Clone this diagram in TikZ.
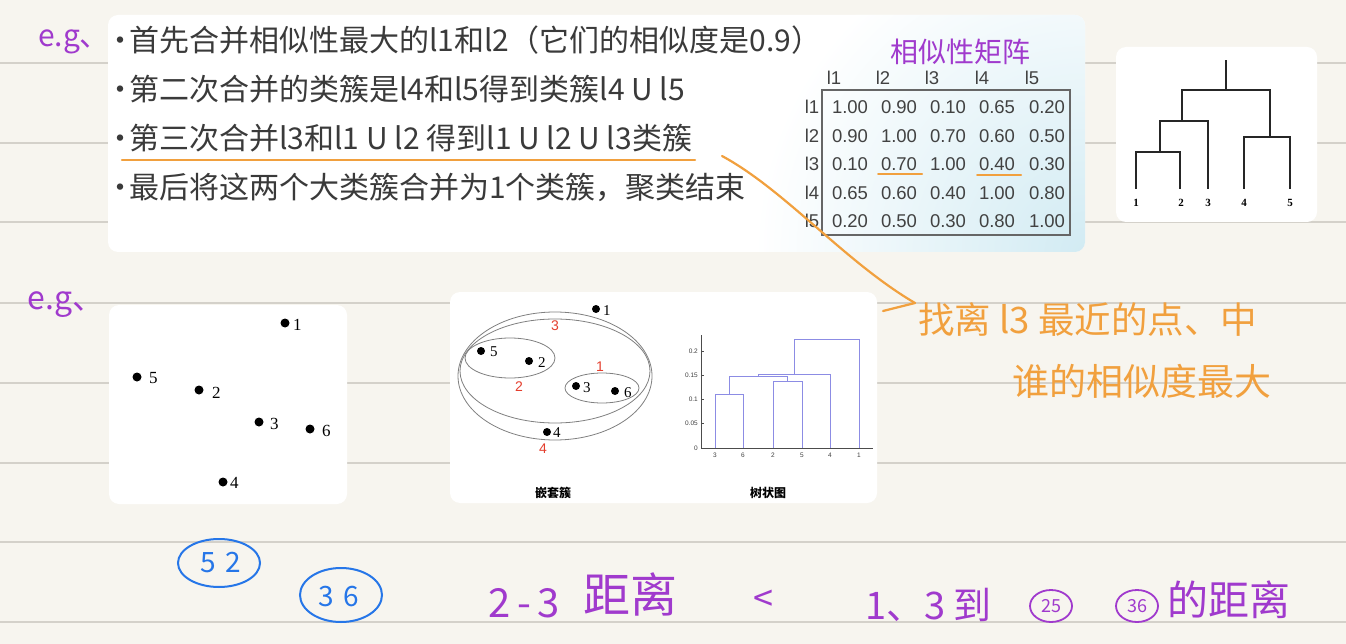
\documentclass[tikz,border=0pt]{standalone}
\usepackage{fontspec}
\setmainfont{Liberation Serif}
\newfontfamily\cjk{Noto Sans CJK SC}
\newfontfamily\arial{Liberation Sans}
\usetikzlibrary{arrows.meta,shapes.geometric}
\definecolor{paper}{RGB}{247,245,239}
\definecolor{rulec}{RGB}{212,209,202}
\definecolor{txt}{RGB}{58,58,58}
\definecolor{mtxt}{RGB}{66,66,66}
\definecolor{hpurple}{RGB}{160,58,205}
\definecolor{horange}{RGB}{241,160,62}
\definecolor{hblue}{RGB}{38,118,232}
\definecolor{dred}{RGB}{228,62,45}
\definecolor{dblue}{RGB}{140,140,228}
\definecolor{tint}{RGB}{210,235,243}
\newcommand{\bdot}{\makebox[17pt][c]{·}}
\begin{document}
\begin{tikzpicture}[x=1pt,y=-1pt,
  panel/.style={fill=white, rounded corners=10pt},
  rulel/.style={draw=rulec, line width=1.3pt},
  body/.style={font=\cjk\fontsize{30}{36}\selectfont, text=txt, anchor=base west, inner sep=0pt},
  mtx/.style={font=\arial\fontsize{18.5}{20}\selectfont, text=mtxt, inner sep=0pt},
  hwp/.style={font=\cjk\fontsize{28}{30}\selectfont, text=hpurple, inner sep=0pt},
  hwo/.style={font=\cjk\fontsize{36.5}{38}\selectfont, text=horange, inner sep=0pt},
  hwb/.style={font=\cjk\fontsize{28}{30}\selectfont, text=hblue, inner sep=0pt},
  oline/.style={draw=horange, line width=2.2pt, line cap=round},
  dot/.style={circle, fill=black, inner sep=0pt, minimum size=9pt},
  sdot/.style={circle, fill=black, inner sep=0pt, minimum size=8pt},
  slab/.style={font=\fontsize{17}{18}\selectfont, inner sep=0pt, anchor=west},
  nlab/.style={font=\fontsize{15}{16}\selectfont, inner sep=0pt, anchor=west},
  rlab/.style={font=\arial\fontsize{14}{15}\selectfont, text=dred, inner sep=0pt},
  clus/.style={draw=black!50, line width=0.8pt},
  dline/.style={draw=black!85, line width=1.6pt},
  dlab/.style={font=\bfseries\fontsize{11}{12}\selectfont, inner sep=0pt},
  pline/.style={draw=dblue, line width=1pt},
  tlab/.style={font=\arial\fontsize{6.5}{7}\selectfont, inner sep=0pt, text=black!75}
]
\useasboundingbox (0,0) rectangle (1346,644);
\fill[paper] (0,0) rectangle (1346,644);
\foreach \yy in {63,143,222,303,383,463,542,622}
  \draw[rulel] (0,\yy) -- (1346,\yy);

% ---------- top panel ----------
\fill[panel] (108,15) rectangle (1085,252);
\begin{scope}
  \clip[rounded corners=10pt] (108,15) rectangle (1085,252);
  \shade[inner color=tint, outer color=white] (1085,252) circle (330);
\end{scope}
\node[hwp, font=\cjk\fontsize{30}{32}\selectfont] (eg1) at (74,42) {e.g、};
\node[body] (t1) at (112,52) {\bdot 首先合并相似性最大的l1和l2（它们的相似度是0.9）};
\node[body] (t2) at (112,101) {\bdot 第二次合并的类簇是l4和l5得到类簇l4 U l5};
\node[body] (t3) at (112,150) {\bdot 第三次合并l3和l1 U l2 得到l1 U l2 U l3类簇};
\node[body] (t4) at (112,199) {\bdot 最后将这两个大类簇合并为1个类簇，聚类结束};
\coordinate (u3a) at (122,160);
\coordinate (u3b) at (695,160);
\draw[oline] (u3a) -- (u3b);

% matrix
\node[hwp] (mtitle) at (960,52) {相似性矩阵};
\foreach \c/\hx in {1/834,2/883,3/932,4/982,5/1032}
  \node[mtx] (h\c) at (\hx,78) {l\c};
\foreach \r/\ry in {1/107,2/136,3/164,4/193,5/221}
  \node[mtx] (r\r) at (812,\ry) {l\r};
\draw[draw=black!60, line width=1.2pt] (822,90) rectangle (1070,235);
\foreach \r/\ry/\va/\vb/\vc/\vd/\ve in {
  1/107/1.00/0.90/0.10/0.65/0.20,
  2/136/0.90/1.00/0.70/0.60/0.50,
  3/164/0.10/0.70/1.00/0.40/0.30,
  4/193/0.65/0.60/0.40/1.00/0.80,
  5/221/0.20/0.50/0.30/0.80/1.00}{
  \node[mtx] (m\r a) at (850,\ry) {\va};
  \node[mtx] (m\r b) at (899,\ry) {\vb};
  \node[mtx] (m\r c) at (948,\ry) {\vc};
  \node[mtx] (m\r d) at (997,\ry) {\vd};
  \node[mtx] (m\r e) at (1047,\ry) {\ve};
}
\coordinate (ua1) at (878,174); \coordinate (ua2) at (922,174);
\coordinate (ub1) at (977,175); \coordinate (ub2) at (1021,175);
\draw[oline, line width=2pt] (ua1) -- (ua2);
\draw[oline, line width=2pt] (ub1) -- (ub2);

% dendrogram panel
\fill[panel] (1116,47) rectangle (1317,222);
\node[dlab] (d1) at (1136,203) {1};
\node[dlab] (d2) at (1181,203) {2};
\node[dlab] (d3) at (1208,203) {3};
\node[dlab] (d4) at (1244,203) {4};
\node[dlab] (d5) at (1290,203) {5};
\draw[dline] (1136,189) |- (1180,152) -- (1180,189);
\draw[dline] (1160,152) |- (1208,121) -- (1208,189);
\draw[dline] (1244,189) |- (1290,137) -- (1290,189);
\draw[dline] (1182,121) |- (1270,90) -- (1270,137);
\draw[dline] (1226,90) -- (1226,60);

% ---------- second row ----------
\node[hwp, font=\cjk\fontsize{32}{34}\selectfont] (eg2) at (66,305) {e.g、};

% scatter panel
\fill[panel] (109,305) rectangle (347,504);
\node[dot] (s1) at (285,323) {}; \node[slab] (sl1) at (293,325) {1};
\node[dot] (s5) at (137,377) {}; \node[slab] (sl5) at (149,378) {5};
\node[dot] (s2) at (199,390) {}; \node[slab] (sl2) at (212,393) {2};
\node[dot] (s3) at (259,422) {}; \node[slab] (sl3) at (270,424) {3};
\node[dot] (s6) at (310,429) {}; \node[slab] (sl6) at (322,431) {6};
\node[dot] (s4) at (223,482) {}; \node[slab] (sl4) at (230,483) {4};

% nested clusters panel
\fill[panel] (450,292) rectangle (877,503);
\draw[clus] (555,376) ellipse [x radius=97, y radius=64];
\draw[clus] (555,371) ellipse [x radius=95, y radius=52];
\draw[clus] (510,358) ellipse [x radius=45, y radius=20];
\draw[clus] (602,388) ellipse [x radius=37, y radius=15];
\node[sdot] (n1) at (596,309) {}; \node[nlab] (nl1) at (603,311) {1};
\node[sdot] (n5) at (481,351) {}; \node[nlab] (nl5) at (490,352) {5};
\node[sdot] (n2) at (529,361) {}; \node[nlab] (nl2) at (538,363) {2};
\node[sdot] (n3) at (576,386) {}; \node[nlab] (nl3) at (583,388) {3};
\node[sdot] (n6) at (615,391) {}; \node[nlab] (nl6) at (624,393) {6};
\node[sdot] (n4) at (547,432) {}; \node[nlab] (nl4) at (553,433) {4};
\node[rlab] (c3) at (555,326) {3};
\node[rlab] (c1) at (600,367) {1};
\node[rlab] (c2) at (519,387) {2};
\node[rlab] (c4) at (543,449) {4};
\node[font=\cjk\bfseries\fontsize{12}{13}\selectfont, inner sep=0pt] (cap1) at (553,493) {嵌套簇};
\node[font=\cjk\bfseries\fontsize{12}{13}\selectfont, inner sep=0pt] (cap2) at (768,493) {树状图};

% dendrogram plot
\draw[black!70, line width=0.6pt] (701,335) -- (701,448) -- (873,448);
\foreach \v/\yy in {0/448,0.05/423.7,0.1/399.4,0.15/375.1,0.2/350.8}{
  \draw[black!70, line width=0.5pt] (701,\yy) -- (704,\yy);
  \node[tlab, anchor=east] at (698,\yy) {\v};
}
\foreach \lab/\xx in {3/715,6/743,2/773,5/802,4/830,1/859}{
  \draw[black!70, line width=0.5pt] (\xx,448) -- (\xx,445);
  \node[tlab] (pl\lab) at (\xx,455) {\lab};
}
\draw[pline] (715,448) |- (743,394) -- (743,448);
\draw[pline] (773,448) |- (802,381) -- (802,448);
\draw[pline] (729,394) |- (787,376) -- (787,381);
\draw[pline] (758,376) |- (830,374) -- (830,448);
\draw[pline] (794,374) |- (859,339) -- (859,448);

% orange note
\node[hwo, anchor=west] (on1) at (918,320) {找离 l3 最近的点、中};
\node[hwo, anchor=west, font=\cjk\fontsize{37}{39}\selectfont] (on2) at (1012,381) {谁的相似度最大};
\coordinate (tip) at (915,303);
\coordinate (arrs) at (722,156);
\draw[oline] (arrs) .. controls (785,190) and (845,262) .. (tip);
\draw[oline] (tip) -- ++(-32,8) coordinate (barb);

% ---------- bottom handwritten ----------
\draw[hblue, line width=2pt] (219,563) ellipse [x radius=41, y radius=24];
\node[hwb] (b52) at (221,563) {5\,\,2};
\draw[hblue, line width=2pt] (341,595) ellipse [x radius=41, y radius=27];
\node[hwb] (b36) at (339,597) {3\,\,6};

\node[font=\cjk\fontsize{40}{42}\selectfont, text=hpurple, inner sep=0pt, anchor=west] (dist1a) at (488,603) {2\,-\,3};
\node[font=\cjk\fontsize{47}{49}\selectfont, text=hpurple, inner sep=0pt] (dist1b) at (630,594) {距离};
\node[font=\cjk\fontsize{36}{38}\selectfont, text=hpurple, inner sep=0pt] (lt) at (763,601) {<};
\node[font=\cjk\fontsize{38}{40}\selectfont, text=hpurple, inner sep=0pt, anchor=west] (d13) at (865,605) {1、3 到};
\draw[hpurple, line width=1.8pt] (1051,606) ellipse [x radius=21, y radius=16];
\node[font=\cjk\fontsize{18}{20}\selectfont, text=hpurple, inner sep=0pt] (p25) at (1051,606) {25};
\draw[hpurple, line width=1.8pt] (1137,606) ellipse [x radius=21, y radius=16];
\node[font=\cjk\fontsize{18}{20}\selectfont, text=hpurple, inner sep=0pt] (p36) at (1137,606) {36};
\node[font=\cjk\fontsize{41}{43}\selectfont, text=hpurple, inner sep=0pt, anchor=west] (dist2) at (1167,600) {的距离};
\end{tikzpicture}
\end{document}
